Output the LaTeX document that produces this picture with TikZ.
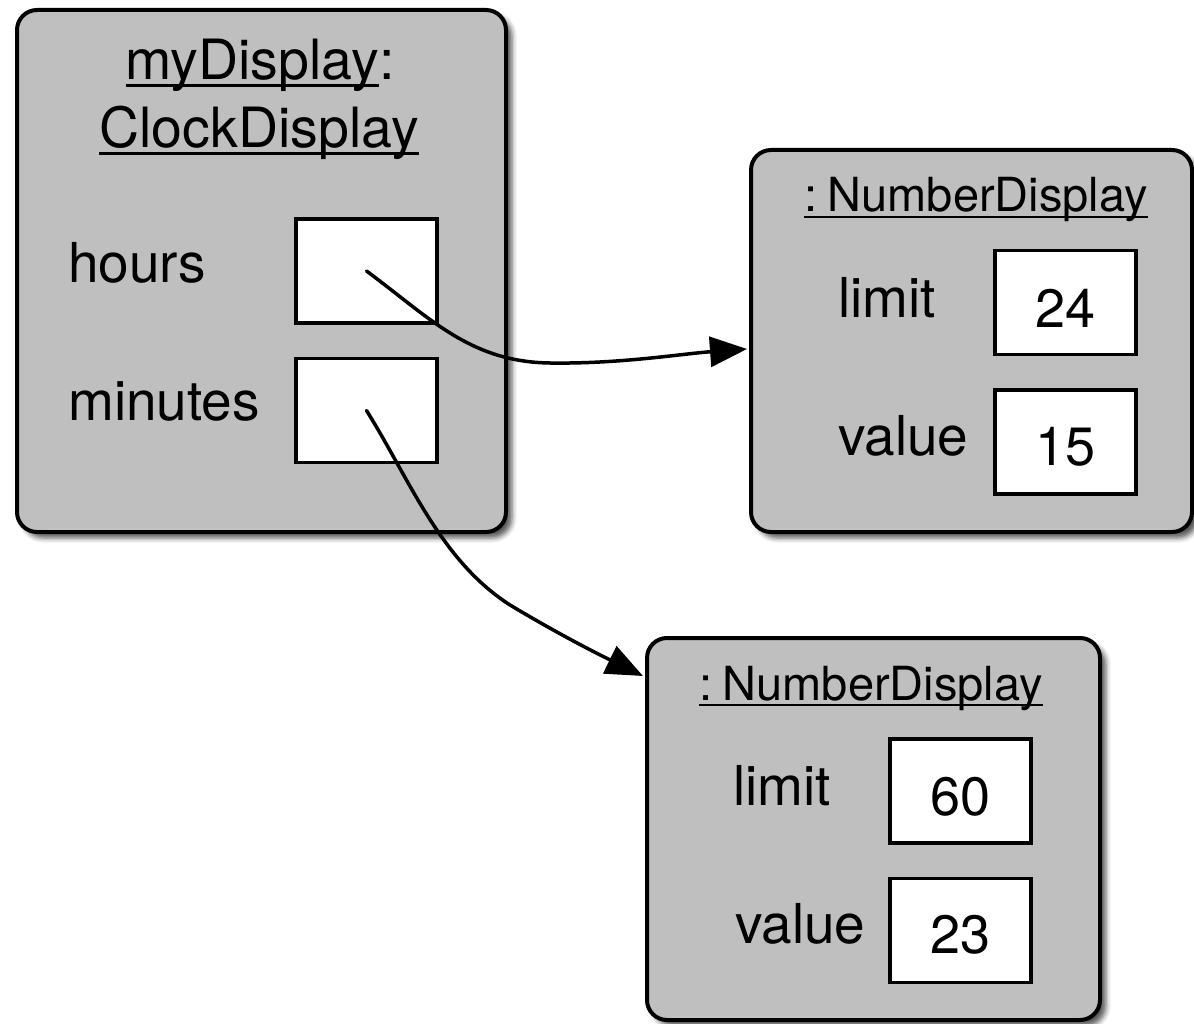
\documentclass[tikz,border=0pt]{standalone}
\usepackage{fontspec}
\setmainfont{TeX Gyre Heros}
\usetikzlibrary{arrows.meta,shadows.blur}

% underline that runs just below the baseline, crossing descenders
\newcommand\ulbox[1]{\setbox0\hbox{#1}\rlap{\rule[-0.12em]{\wd0}{0.045em}}\box0}

\definecolor{objfill}{RGB}{191,191,191}

\tikzset{
  objbox/.style={draw, line width=4pt, fill=objfill, rounded corners=20pt,
    inner sep=0pt, minimum width=#1,
    blur shadow={shadow xshift=6pt, shadow yshift=-6pt, shadow blur radius=5pt, shadow opacity=65}},
  slot/.style={draw, line width=3.5pt, fill=white, inner sep=0pt,
    minimum width=141pt, minimum height=104pt},
  lbl/.style={anchor=base west, inner sep=0pt, font=\fontsize{55}{60}\selectfont},
  val/.style={anchor=base, inner sep=0pt, font=\fontsize{54}{60}\selectfont},
  ttl/.style={anchor=base, inner sep=0pt, font=\fontsize{55.5}{60}\selectfont},
  ndttl/.style={anchor=base, inner sep=0pt, font=\fontsize{47}{52}\selectfont},
  ref/.style={line width=3.5pt, line cap=round, -{Triangle[length=37pt,width=30pt]}},
}

\begin{document}
\begin{tikzpicture}[x=1pt, y=-1pt]
\useasboundingbox (0,0) rectangle (1194,1024);

% object myDisplay : ClockDisplay
\node[objbox=489pt, minimum height=522pt] (clock) at (261.5,271) {};
\node[ttl] (clockname) at (260,80) {\ulbox{myDisplay}:};
\node[ttl] (clockclass) at (259,148) {\ulbox{ClockDisplay}};
\node[lbl] (hourslbl) at (68,283) {hours};
\node[lbl] (minuteslbl) at (68,420) {minutes};
\node[slot] (hours) at (366.5,271) {};
\node[slot] (minutes) at (366.5,410.5) {};

% hours : NumberDisplay
\node[objbox=441pt, minimum height=382pt] (hourdisp) at (971.5,341) {};
\node[ndttl] (hourclass) at (976,212) {\ulbox{:\kern0.22em NumberDisplay}};
\node[lbl] (hlimitlbl) at (838,317) {limit};
\node[lbl] (hvaluelbl) at (838,455) {value};
\node[slot] (hlimit) at (1065.5,302.5) {};
\node[slot] (hvalue) at (1065.5,442) {};
\node[val] (hlimitval) at (1065.5,327) {24};
\node[val] (hvalueval) at (1065.5,465) {15};

% minutes : NumberDisplay
\node[objbox=453pt, minimum height=382pt] (mindisp) at (873.5,829) {};
\node[ndttl] (minclass) at (871,700) {\ulbox{:\kern0.22em NumberDisplay}};
\node[lbl] (mlimitlbl) at (733,805) {limit};
\node[lbl] (mvaluelbl) at (735,943) {value};
\node[slot] (mlimit) at (960.5,791) {};
\node[slot] (mvalue) at (960.5,930.5) {};
\node[val] (mlimitval) at (960.5,815) {60};
\node[val] (mvalueval) at (960.5,953) {23};

% references from the fields to the objects
\draw[ref] (hours.center) .. controls (430,318) and (470,362) .. (550,363)
  .. controls (620,364) and (680,354) .. ([xshift=-2pt,yshift=-8pt]hourdisp.west);
\draw[ref] (minutes.center) .. controls (410,480) and (440,560) .. (510,605)
  .. controls (560,635) and (600,655) .. ([xshift=-2pt,yshift=-40pt]mindisp.north west);
\end{tikzpicture}
\end{document}
